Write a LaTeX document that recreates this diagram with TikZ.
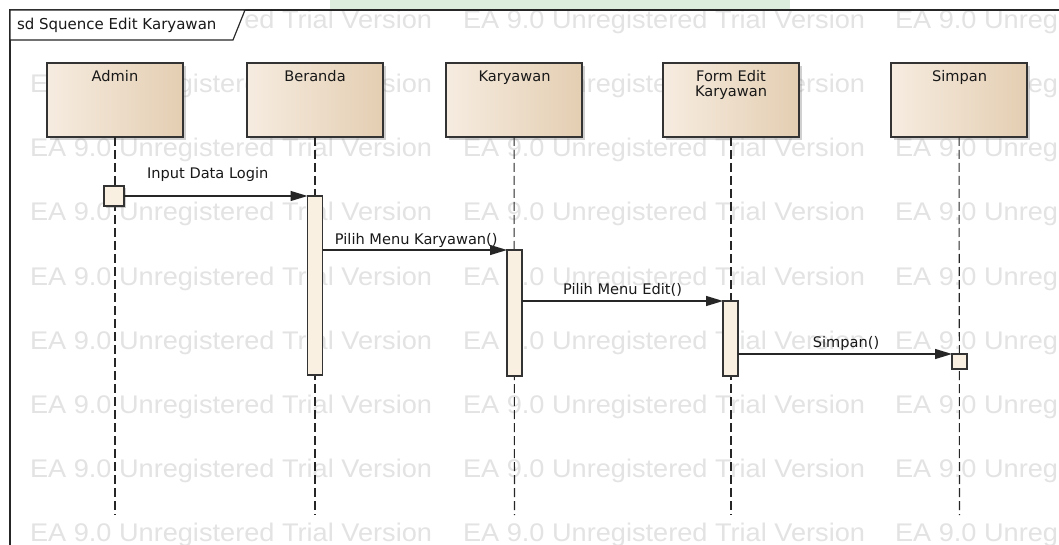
\documentclass[tikz,border=0pt]{standalone}
\usepackage{fontspec}
\setmainfont{DejaVu Sans}
\newfontfamily\wmfont[FakeStretch=1.065]{Liberation Sans}
\usetikzlibrary{arrows.meta,shadows,calc}

\definecolor{headL}{HTML}{F6ECE0}
\definecolor{headR}{HTML}{E4CEB2}
\definecolor{barfill}{HTML}{FAF0E2}
\definecolor{wmgray}{HTML}{E3E3E3}
\definecolor{logogreen}{HTML}{DCEDDD}

\begin{document}
\begin{tikzpicture}[x=1pt,y=-1pt,
  every node/.style={inner sep=0pt, outer sep=0pt},
  txt/.style={font=\fontsize{14.6}{15}\selectfont, text=black!90, anchor=base},
  wm/.style={font=\wmfont\fontsize{25.5}{26}\selectfont, text=wmgray, anchor=base west},
  head/.style={draw=black!80, line width=1.2pt, minimum width=136pt,
    minimum height=74pt, anchor=north west, left color=headL, right color=headR,
    drop shadow={shadow xshift=3pt, shadow yshift=-3pt, opacity=0.3, fill=black!60}},
  actbar/.style={draw=black!80, line width=1.1pt, fill=barfill,
    minimum width=15pt, anchor=north},
  life/.style={black!85, line width=1.1pt, dash pattern=on 9pt off 4pt},
  msg/.style={black!85, line width=1.2pt, -{Triangle[length=17pt,width=10pt]}},
  frameline/.style={black!85, line width=1.2pt}
]
\useasboundingbox (0,0) rectangle (1059,545);
\clip (0,0) rectangle (1059,545);
\fill[white] (0,0) rectangle (1059,545);

% faint logo band at the top edge
\fill[logogreen] (330,0) rectangle (790,9);

% background watermark grid
\foreach \r in {0,...,8}
  \foreach \c in {30,463,895}
    \node[wm] (wm-\r-\c) at (\c,{29+64*\r}) {EA 9.0 Unregistered Trial Version};

% diagram frame and name tab
\draw[frameline] (1059,10) -- (10,10) -- (10,545);
\draw[frameline, fill=white] (10,10) -- (245,10) -- (233,40) -- (10,40) -- cycle;
\node[txt, anchor=base west, font=\fontsize{15}{15}\selectfont] (title) at (17,30)
  {sd Squence Edit Karyawan};

% lifeline ends
\coordinate (adminend) at (115,515);
\coordinate (berandaend) at (315,515);
\coordinate (karyawanend) at (514.5,515);
\coordinate (formend) at (731,515);
\coordinate (simpanend) at (959.5,515);

% lifeline heads
\node[head] (admin) at (47,63) {};
\node[head] (beranda) at (247,63) {};
\node[head] (karyawan) at (446,63) {};
\node[head] (form) at (663,63) {};
\node[head] (simpan) at (891,63) {};

\node[txt] (adminlbl) at (115,82) {Admin};
\node[txt] (berandalbl) at (315,82) {Beranda};
\node[txt] (karyawanlbl) at (514.5,82) {Karyawan};
\node[txt] (formlbl) at (731,82) {Form Edit};
\node[txt] (formlbltwo) at (731,97) {Karyawan};
\node[txt] (simpanlbl) at (959.5,82) {Simpan};

% dashed lifelines
\draw[life] (admin) -- (adminend);
\draw[life] (beranda) -- (berandaend);
\draw[life] (karyawan) -- (karyawanend);
\draw[life] (form) -- (formend);
\draw[life] (simpan) -- (simpanend);

% activations
\node[actbar, minimum width=20pt, minimum height=20pt,
  drop shadow={shadow xshift=2pt, shadow yshift=-2pt, opacity=0.3, fill=black!60}]
  (adminact) at (114,186) {};
\node[actbar, minimum height=179pt] (berandaact) at (315,196) {};
\node[actbar, minimum height=126pt] (karyawanact) at (514.5,250) {};
\node[actbar, minimum height=75pt] (formact) at (730.5,301) {};
\node[actbar, minimum height=15pt] (simpanact) at (959.5,354) {};

% messages
\draw[msg] (adminact.east) -- (adminact.east -| berandaact.west)
  node[txt, pos=0.5, xshift=-8pt, yshift=17pt] (m1) {Input Data Login};
\draw[msg] (karyawanact.north west -| berandaact.east) -- (karyawanact.north west)
  node[txt, pos=0.5, xshift=1.5pt, yshift=6pt] (m2) {Pilih Menu Karyawan()};
\draw[msg] (formact.north west -| karyawanact.east) -- (formact.north west)
  node[txt, pos=0.5, yshift=7pt] (m3) {Pilih Menu Edit()};
\draw[msg] (simpanact.north west -| formact.east) -- (simpanact.north west)
  node[txt, pos=0.5, xshift=1pt, yshift=7pt] (m4) {Simpan()};
\end{tikzpicture}
\end{document}
